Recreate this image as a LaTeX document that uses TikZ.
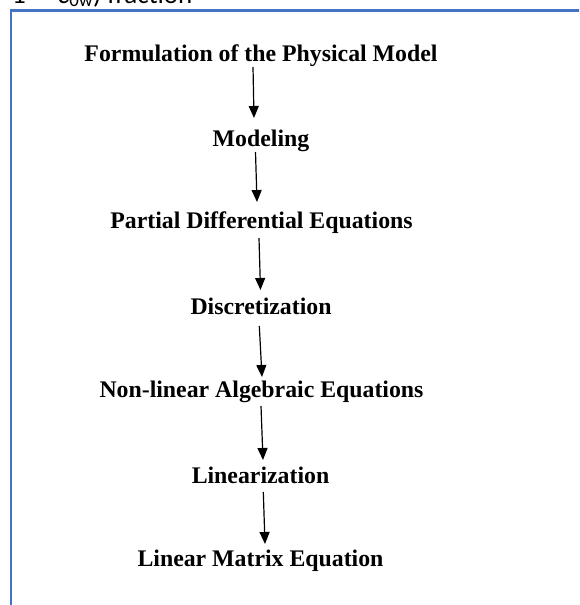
\documentclass[tikz,border=0pt]{standalone}
\usepackage{fontspec}
\setmainfont{Liberation Serif}
\newfontfamily\carlitofont{Carlito}
\usetikzlibrary{arrows.meta,calc}
\definecolor{frameblue}{RGB}{68,114,196}
\tikzset{
  stage/.style={anchor=base,inner sep=0pt,font=\fontsize{23.8}{28}\selectfont\bfseries},
  flow/.style={line width=1.2pt,-{Triangle[width=10pt,length=12pt]}},
  frame/.style={draw=frameblue,line width=2.6pt},
  cuttext/.style={anchor=base west,inner sep=0pt,font=\carlitofont\fontsize{27}{30}\selectfont}
}
\begin{document}
\begin{tikzpicture}[x=1pt,y=-1pt]
\clip (0,0) rectangle (579,605);
\fill[white] (0,0) rectangle (579,605);
% cut-off text above the frame
\node[cuttext] (t1) at (12,3) {1 −};
\node[cuttext] (t2) at (58,3) {\textit{c}\textsubscript{0w}) fraction};
% frame
\draw[frame] (11,620) -- (11,10.5) -- (600,10.5);
% stages
\node[stage] (F) at (261,61) {Formulation of the Physical Model};
\node[stage] (M) at (261,146) {Modeling};
\node[stage] (P) at (261.5,228) {Partial Differential Equations};
\node[stage] (D) at (261,314) {Discretization};
\node[stage] (N) at (261.5,397) {Non-linear Algebraic Equations};
\node[stage] (L) at (260.5,483) {Linearization};
\node[stage] (E) at (260.5,566) {Linear Matrix Equation};
% arrows
\draw[flow] ($(F.base)+(-8,6)$) -- ($(M.base)+(-7,-28)$);
\draw[flow] ($(M.base)+(-5.5,6)$) -- ($(P.base)+(-4.5,-26)$);
\draw[flow] ($(P.base)+(-2.5,10)$) -- ($(D.base)+(-0.5,-24)$);
\draw[flow] ($(D.base)+(-1.7,12)$) -- ($(N.base)+(0.5,-20)$);
\draw[flow] ($(N.base)+(-0.5,9)$) -- ($(L.base)+(2.5,-23)$);
\draw[flow] ($(L.base)+(2.8,9)$) -- ($(E.base)+(4.5,-22)$);
\end{tikzpicture}
\end{document}
